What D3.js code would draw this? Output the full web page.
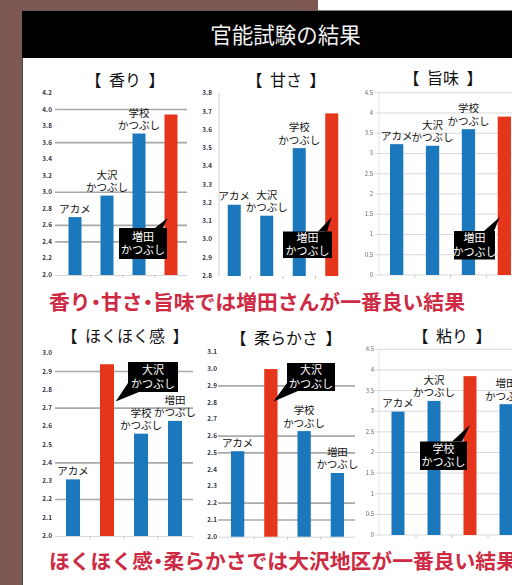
<!DOCTYPE html>
<html><head><meta charset="utf-8">
<script src="https://cdn.jsdelivr.net/npm/d3@7"></script>
<style>
html,body{margin:0;padding:0;background:#fff;overflow:hidden}
text{font-family:"Noto Sans CJK JP","Noto Sans",sans-serif}
.summary{font-feature-settings:"halt" 1}
.ctitle{word-spacing:4px}
</style></head><body>
<svg id="c" width="512" height="585"></svg>
<script>
// ---------- data ----------
const mainTitle = "官能試験の結果";
const summaryTop = "香り・甘さ・旨味では増田さんが一番良い結果";
const summaryBottom = "ほくほく感・柔らかさでは大沢地区が一番良い結果";
const categories = ["アカメ", "大沢かつぶし", "学校かつぶし", "増田かつぶし"];
const categoryLines = [["アカメ"], ["大沢", "かつぶし"], ["学校", "かつぶし"], ["増田", "かつぶし"]];
const chartTitles = ["【 香り 】", "【 甘さ 】", "【 旨味 】", "【 ほくほく感 】", "【 柔らかさ 】", "【 粘り 】"];

const aromaValues    = [2.70, 2.96, 3.71, 3.94];
const sweetValues    = [3.19, 3.13, 3.50, 3.69];
const umamiValues    = [3.23, 3.19, 3.60, 3.91];
const hokuhokuValues = [2.31, 2.94, 2.56, 2.63];
const softValues     = [2.51, 3.00, 2.63, 2.38];
const stickyValues   = [2.99, 3.25, 3.85, 3.17];

const aromaTicks    = [2.0, 2.2, 2.4, 2.6, 2.8, 3.0, 3.2, 3.4, 3.6, 3.8, 4.0, 4.2];
const sweetTicks    = [2.8, 2.9, 3.0, 3.1, 3.2, 3.3, 3.4, 3.5, 3.6, 3.7, 3.8];
const umamiTicks    = [0, 0.5, 1, 1.5, 2, 2.5, 3, 3.5, 4, 4.5];
const hokuhokuTicks = [2.0, 2.1, 2.2, 2.3, 2.4, 2.5, 2.6, 2.7, 2.8, 2.9, 3.0];
const softTicks     = [2.0, 2.1, 2.2, 2.3, 2.4, 2.5, 2.6, 2.7, 2.8, 2.9, 3.0, 3.1];
const stickyTicks   = [0, 0.5, 1, 1.5, 2, 2.5, 3, 3.5, 4, 4.5];

const aromaGrid    = [2.4, 2.6, 3.0, 3.6, 4.0];
const sweetGrid    = [];
const umamiGrid    = umamiTicks;
const hokuhokuGrid = [2.2, 2.4, 2.7, 2.9];
const softGrid     = [2.1, 2.2, 2.5, 2.6, 2.9];
const stickyGrid   = stickyTicks;

const highlightIndex = [3, 3, 3, 1, 1, 2];

// ---------- layout (positions / styles only) ----------
const BLUE = "#1b78bd", RED = "#e5361c", CRIMSON = "#cd2a44", BROWN = "#7e5853";
const layouts = [
  {values: aromaValues, ticks: aromaTicks, grid: aromaGrid, fmt: ".1f", sharp: false,
   xr: [59, 187], yr: [275, 93], gridX: [55, 187], tickX: 52, bw: 13, titleX: 125, titleY: 86,
   baseline: true, yAxis: false,
   call: {box: [119, 228, 48, 31], tipDx: -3.5, tipY: 218, base: [[155, 228], [163, 228]]}},
  {values: sweetValues, ticks: sweetTicks, grid: sweetGrid, fmt: ".1f", sharp: false,
   xr: [218, 348], yr: [276, 93.3], gridX: [219, 350], tickX: 212, bw: 13, titleX: 286, titleY: 86,
   baseline: false, yAxis: true,
   call: {box: [283, 231.5, 49, 26.5], tipDx: 0, tipY: 217, base: [[318, 231.5], [327, 231.5]]}},
  {values: umamiValues, ticks: umamiTicks, grid: umamiGrid, fmt: "", sharp: true,
   xr: [378.7, 522.3], yr: [275, 92.7], gridX: [375, 512], tickX: 373, bw: 13.3, titleX: 443, titleY: 84,
   baseline: false, yAxis: false,
   call: {box: [454, 231, 41, 28.5], tipDx: -4.5, tipY: 217, base: [[484, 231], [494, 231]]}},
  {values: hokuhokuValues, ticks: hokuhokuTicks, grid: hokuhokuGrid, fmt: ".1f", sharp: false,
   xr: [56, 192], yr: [536, 353.3], gridX: [55, 193], tickX: 52, bw: 14, titleX: 125, titleY: 342,
   baseline: true, yAxis: false,
   call: {box: [128, 362, 50, 30], tipDx: 8.7, tipY: 401.5, base: [[128, 383], [139, 392]]}},
  {values: softValues, ticks: softTicks, grid: softGrid, fmt: ".1f", sharp: false,
   xr: [221, 354], yr: [536.7, 352.3], gridX: [218, 355], tickX: 217, bw: 13.3, titleX: 286, titleY: 344,
   baseline: true, yAxis: false,
   call: {box: [287, 363, 48, 28], tipDx: 2.6, tipY: 401.5, base: [[287, 383], [298, 391]]}},
  {values: stickyValues, ticks: stickyTicks, grid: stickyGrid, fmt: "", sharp: true,
   xr: [380, 524], yr: [535, 349.3], gridX: [375, 512], tickX: 374, bw: 13, titleX: 452, titleY: 342,
   baseline: false, yAxis: false,
   call: {box: [420, 441.5, 47, 28.5], tipDx: 0, tipY: 425, base: [[452, 441.5], [462, 441.5]]}}
];

// ---------- draw ----------
const svg = d3.select("#c");
const defs = svg.append("defs");
defs.append("filter").attr("id", "soft").append("feGaussianBlur").attr("stdDeviation", 0.5);
defs.append("filter").attr("id", "soft2").append("feGaussianBlur").attr("stdDeviation", 0.25);

svg.append("rect").attr("width", 512).attr("height", 585).attr("fill", "#fff");
svg.append("rect").attr("x", 0).attr("y", 0).attr("width", 22).attr("height", 585).attr("fill", BROWN);
svg.append("rect").attr("x", 0).attr("y", 0).attr("width", 318).attr("height", 10.5).attr("fill", BROWN);
svg.append("rect").attr("x", 22).attr("y", 10.5).attr("width", 490).attr("height", 47.5).attr("fill", "#000");
svg.append("line").attr("x1", 22.5).attr("x2", 22.5).attr("y1", 58).attr("y2", 585)
  .attr("stroke", "#4a4a4a").attr("stroke-width", 1);
svg.append("text").attr("x", 285.5).attr("y", 43).attr("text-anchor", "middle")
  .attr("font-size", 21.5).attr("fill", "#f2f2f2").text(mainTitle);

layouts.forEach((L, ci) => {
  const g = svg.append("g");
  const x = d3.scalePoint().domain(categories).range(L.xr).padding(0.5);
  const y = d3.scaleLinear().domain([L.ticks[0], L.ticks[L.ticks.length - 1]]).range(L.yr);
  const fmt = L.fmt ? d3.format(L.fmt) : d3.format("");

  // chart title
  g.append("text").attr("class", "ctitle").attr("x", L.titleX).attr("y", L.titleY)
    .attr("text-anchor", "middle").attr("font-size", 16).attr("fill", "#111").text(chartTitles[ci]);

  // gridlines
  g.selectAll("line.grid").data(L.grid).join("line")
    .attr("x1", L.gridX[0]).attr("x2", L.gridX[1])
    .attr("y1", d => y(d)).attr("y2", d => y(d))
    .attr("stroke", L.sharp ? "#d9d9d9" : "#a9a9a9")
    .attr("stroke-width", L.sharp ? 1 : 1.6);

  if (L.sharp) {
    g.append("line").attr("x1", L.gridX[0] + 4).attr("x2", L.gridX[0] + 4)
      .attr("y1", L.yr[1]).attr("y2", L.yr[0]).attr("stroke", "#e3e3e3").attr("stroke-width", 1);
  }
  if (L.yAxis) {
    g.append("line").attr("x1", L.gridX[0]).attr("x2", L.gridX[0])
      .attr("y1", L.yr[1]).attr("y2", L.yr[0]).attr("stroke", "#dedede").attr("stroke-width", 1.5);
  }
  if (L.baseline) {
    g.append("line").attr("x1", L.gridX[0]).attr("x2", L.gridX[1])
      .attr("y1", L.yr[0] + 0.5).attr("y2", L.yr[0] + 0.5).attr("stroke", "#d6d6d6").attr("stroke-width", 1);
  }
  const step = x.step();
  g.selectAll("line.xt").data(categories.slice(1)).join("line")
    .attr("x1", d => x(d) - step / 2).attr("x2", d => x(d) - step / 2)
    .attr("y1", L.yr[0]).attr("y2", L.yr[0] + 3)
    .attr("stroke", "#c8c8c8").attr("stroke-width", 1);

  // tick labels
  g.append("g").attr("filter", L.sharp ? "url(#soft2)" : "url(#soft)")
    .selectAll("text").data(L.ticks).join("text")
    .attr("x", L.tickX).attr("y", d => y(d) + 2)
    .attr("text-anchor", "end")
    .attr("font-size", L.sharp ? 6 : 6.5)
    .attr("font-weight", L.sharp ? 400 : 700)
    .attr("fill", L.sharp ? "#6a6a6a" : "#2c3440")
    .text(d => fmt(d));

  // bars
  g.selectAll("rect.bar").data(L.values).join("rect")
    .attr("x", (d, i) => x(categories[i]) - L.bw / 2)
    .attr("width", L.bw)
    .attr("y", d => y(d))
    .attr("height", d => L.yr[0] - y(d))
    .attr("fill", (d, i) => i === highlightIndex[ci] ? RED : BLUE);

  // labels above non-highlighted bars
  L.values.forEach((v, i) => {
    if (i === highlightIndex[ci]) return;
    const lines = categoryLines[i];
    const cx = x(categories[i]);
    const top = y(v);
    lines.forEach((t, k) => {
      g.append("text").attr("x", cx).attr("text-anchor", "middle")
        .attr("y", top - 4.5 - (lines.length - 1 - k) * 12.5)
        .attr("font-size", 10.5).attr("fill", "#111").text(t);
    });
  });

  // callout for highlighted bar
  const hi = highlightIndex[ci];
  const c = L.call;
  const tip = [x(categories[hi]) + c.tipDx, c.tipY];
  const [bx, by, bw, bh] = c.box;
  g.append("rect").attr("x", bx).attr("y", by).attr("width", bw).attr("height", bh).attr("fill", "#000");
  g.append("path").attr("d", d3.line()([c.base[0], tip, c.base[1]]) + "Z").attr("fill", "#000");
  categoryLines[hi].forEach((t, k) => {
    g.append("text").attr("x", bx + bw / 2).attr("text-anchor", "middle")
      .attr("y", by + bh / 2 - 3 + k * 13.5)
      .attr("font-size", 11).attr("fill", "#fff").text(t);
  });
});

// summary lines
svg.append("text").attr("class", "summary").attr("x", 49).attr("y", 309.5).attr("font-size", 20.8)
  .attr("font-weight", 700).attr("fill", CRIMSON).text(summaryTop);
svg.append("text").attr("class", "summary").attr("x", 49).attr("y", 568.5).attr("font-size", 20.8)
  .attr("font-weight", 700).attr("fill", CRIMSON).text(summaryBottom);
</script>
</body></html>
